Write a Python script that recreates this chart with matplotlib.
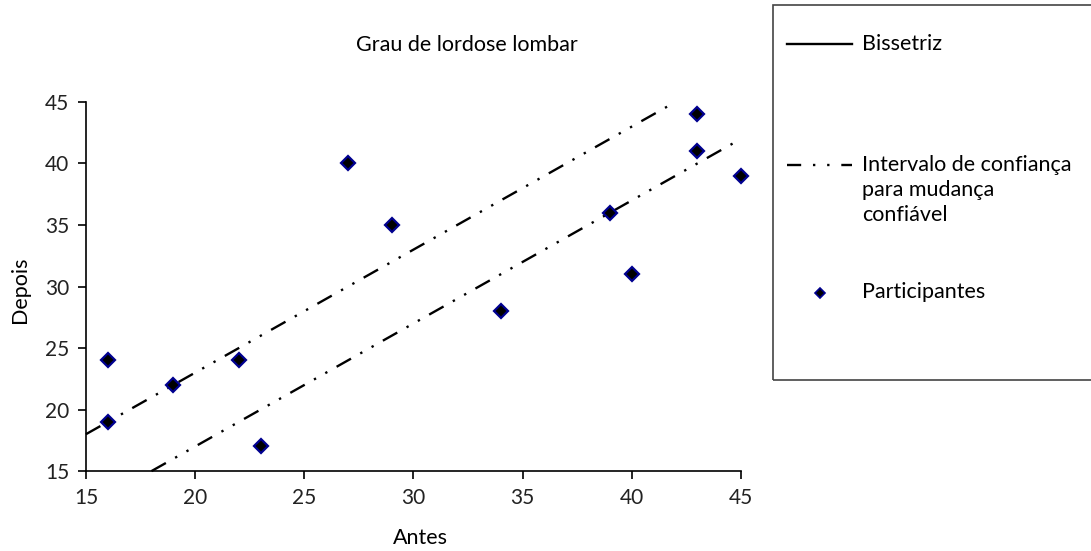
import matplotlib.pyplot as plt
from matplotlib.lines import Line2D
from matplotlib.patches import Rectangle

# Dados: grau de lordose lombar antes e depois
antes = [16, 16, 19, 22, 23, 27, 29, 34, 39, 40, 43, 43, 45]
depois = [24, 19, 22, 24, 17, 40, 35, 28, 36, 31, 44, 41, 39]

# Intervalo de confiança (bissetriz +/- 3)
ic_sup_x = [15, 42]
ic_sup_y = [18, 45]
ic_inf_x = [18, 45]
ic_inf_y = [15, 42]

plt.rcParams['font.family'] = ['Lato', 'DejaVu Sans']

fig = plt.figure(figsize=(10.91, 5.51), dpi=100)
ax = fig.add_axes([0.0788, 0.145, 0.6004, 0.670])

padrao = (7, 4.5, 1, 4.5, 1, 4.5)
ax.plot(ic_sup_x, ic_sup_y, color="black", lw=1.7, dashes=padrao, clip_on=False)
ax.plot(ic_inf_x, ic_inf_y, color="black", lw=1.7, dashes=padrao, clip_on=False)
ax.plot(antes, depois, ls="none", marker="D", markersize=7.3,
        markerfacecolor="black", markeredgecolor="#000090", markeredgewidth=1.6,
        clip_on=False, zorder=3)

ax.set_xlim(15, 45)
ax.set_ylim(15, 45)
ax.set_xticks(range(15, 46, 5))
ax.set_yticks(range(15, 46, 5))
ax.tick_params(labelsize=15, direction="out", length=6, width=1.2, pad=6,
               labelcolor="#222222")
for s in ["top", "right"]:
    ax.spines[s].set_visible(False)
for s in ["left", "bottom"]:
    ax.spines[s].set_linewidth(1.2)

fig.text(467 / 1091, 1 - 45 / 551, "Grau de lordose lombar", ha="center", va="center", fontsize=15.5)
fig.text(420 / 1091, 1 - 538 / 551, "Antes", ha="center", va="center", fontsize=15.5)
fig.text(20 / 1091, 1 - 290 / 551, "Depois", ha="center", va="center", rotation=90, fontsize=15.5)

# Legenda desenhada à mão
fig.add_artist(Rectangle((773 / 1091, 1 - 380 / 551), 0.4, 375 / 551,
                         transform=fig.transFigure, fill=False, lw=1.2, ec="#444444"))
fig.add_artist(Line2D([787 / 1091, 852 / 1091], [1 - 44 / 551] * 2,
                      transform=fig.transFigure, color="black", lw=1.7))
fig.add_artist(Line2D([787 / 1091, 852 / 1091], [1 - 165 / 551] * 2,
                      transform=fig.transFigure, color="black", lw=1.7,
                      dashes=(6, 5, 1, 5, 1, 5)))
fig.add_artist(Line2D([820 / 1091], [1 - 293 / 551], transform=fig.transFigure,
                      ls="none", marker="D", markersize=5.5, markerfacecolor="black",
                      markeredgecolor="#000090", markeredgewidth=1.2))
fig.text(862 / 1091, 1 - 44 / 551, "Bissetriz", va="center", fontsize=15.5)
fig.text(862 / 1091, 1 - 190 / 551, "Intervalo de confiança\npara mudança\nconfiável",
         va="center", fontsize=15.5, linespacing=1.3)
fig.text(862 / 1091, 1 - 292 / 551, "Participantes", va="center", fontsize=15.5)

fig.savefig("out.png", dpi=100)
